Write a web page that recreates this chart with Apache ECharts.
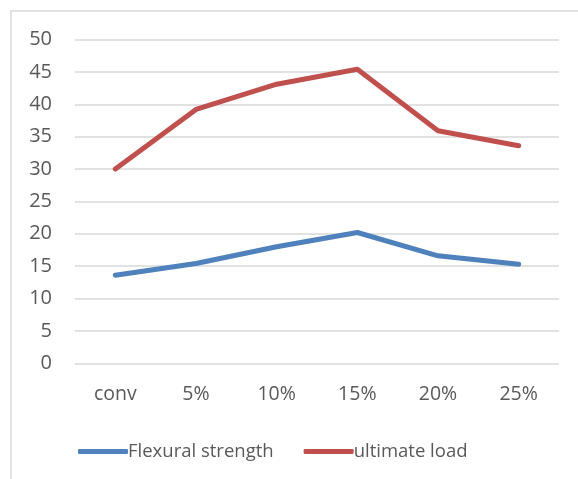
<!DOCTYPE html>
<html><head><meta charset="utf-8">
<script src="https://cdn.jsdelivr.net/npm/echarts@6/dist/echarts.min.js"></script>
<style>html,body{margin:0;padding:0;background:#fff}#c{width:578px;height:479px}</style>
</head><body><div id="c"></div>
<script>
const categories = ['conv', '5%', '10%', '15%', '20%', '25%'];
const flexuralStrength = [13.6, 15.4, 18.0, 20.2, 16.6, 15.3];
const ultimateLoad = [30.0, 39.2, 43.1, 45.4, 35.9, 33.6];
const seriesNames = ['Flexural strength', 'ultimate load'];

const chart = echarts.init(document.getElementById('c'));
const font = 'Open Sans, Liberation Sans, sans-serif';
chart.setOption({
  animation: false,
  graphic: [{type: 'rect', shape: {x: 11, y: 11, width: 700, height: 600}, style: {fill: 'none', stroke: '#d9d9d9', lineWidth: 1.5}}],
  grid: {left: 75, right: 19, top: 39.5, bottom: 115.7},
  legend: {
    top: 437, left: 73, itemWidth: 50, itemHeight: 5, itemGap: 30,
    icon: 'roundRect',
    textStyle: {fontFamily: font, fontSize: 18.5, color: '#595959', padding: [0,0,0,-5]},
    data: seriesNames
  },
  xAxis: {
    type: 'category', data: categories,
    axisLine: {show: false}, axisTick: {show: false},
    axisLabel: {fontFamily: font, fontSize: 19.5, color: '#595959', margin: 21}
  },
  yAxis: {
    type: 'value', min: 0, max: 50, interval: 5,
    axisLine: {show: false}, axisTick: {show: false},
    axisLabel: {fontFamily: font, fontSize: 20, color: '#595959', margin: 23},
    splitLine: {lineStyle: {color: '#d9d9d9', width: 1.5}}
  },
  series: [
    {name: seriesNames[0], type: 'line', data: flexuralStrength, symbol: 'none', lineStyle: {color: '#4F81BD', width: 5, cap: 'round', join: 'round'}, itemStyle: {color: '#4F81BD'}},
    {name: seriesNames[1], type: 'line', data: ultimateLoad, symbol: 'none', lineStyle: {color: '#C0504D', width: 5, cap: 'round', join: 'round'}, itemStyle: {color: '#C0504D'}}
  ]
});
</script></body></html>
